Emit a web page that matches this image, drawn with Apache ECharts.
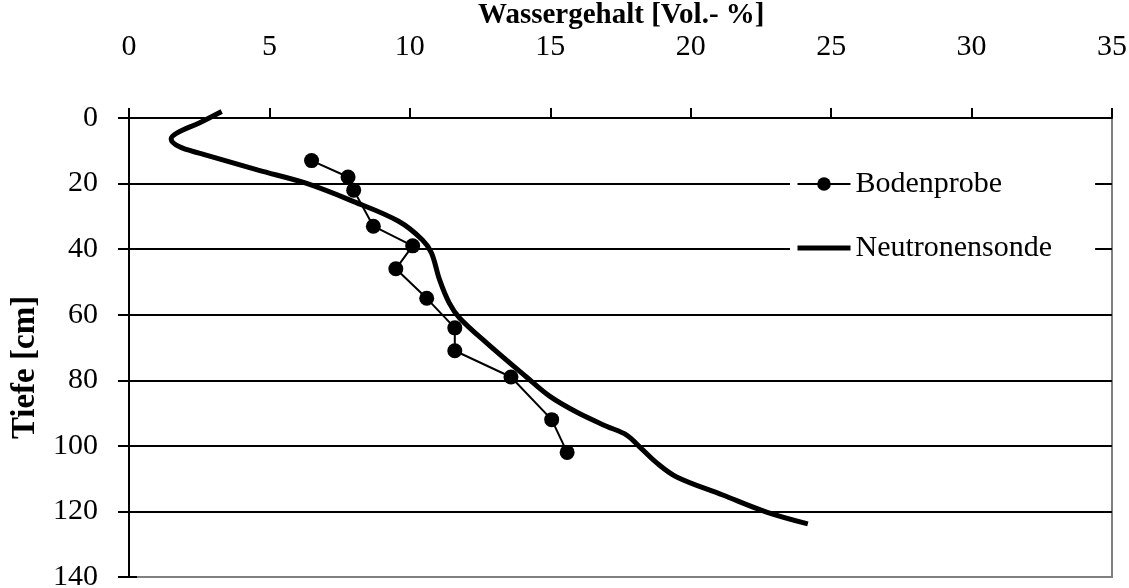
<!DOCTYPE html>
<html>
<head>
<meta charset="utf-8">
<script src="https://cdn.jsdelivr.net/npm/echarts@6/dist/echarts.min.js"></script>
<style>
html,body{margin:0;padding:0;background:#fff;}
#chart{width:1129px;height:588px;}
</style>
</head>
<body>
<div id="chart"></div>
<script>
// Data: [water content Vol.-%, depth cm]
const bodenprobe = [
  [6.5, 13], [7.8, 18], [8.0, 22], [8.7, 33], [10.1, 39], [9.5, 46],
  [10.6, 55], [11.6, 64], [11.6, 71], [13.6, 79], [15.05, 92], [15.6, 102]
];
const neutronensonde = [
  [3.3, -2], [2.5, 1.5], [1.7, 4.6], [1.5, 6.4], [1.8, 8.8], [2.5, 10.7],
  [4.6, 15.9], [6.3, 19.9], [8.0, 25.5], [9.6, 31.5], [10.45, 37.2], [10.77, 41.2],
  [11.06, 49.4], [11.4, 56.4], [11.77, 61], [12.73, 68.6], [14.15, 79], [15.0, 85],
  [16.0, 90], [17.0, 94], [17.72, 96.7], [18.18, 100.3], [18.79, 105.2], [19.5, 109.5],
  [21.14, 115], [22.7, 120.2], [24.17, 123.8]
];
const xTitle = 'Wassergehalt [Vol.- %]';
const yTitle = 'Tiefe [cm]';
const seriesNames = ['Bodenprobe', 'Neutronensonde'];

const FONT = 'Liberation Serif';
const chart = echarts.init(document.getElementById('chart'), null, {renderer: 'canvas'});
chart.setOption({
  animation: false,
  backgroundColor: '#fff',
  title: {
    text: xTitle, left: 478, top: 0, padding: 0,
    textStyle: {fontFamily: FONT, fontWeight: 'bold', fontSize: 29, color: '#000', lineHeight: 32}
  },
  grid: {
    left: 129, top: 118, right: 17, bottom: 11,
    outerBoundsMode: 'none', containLabel: false,
    show: true, borderColor: '#808080', borderWidth: 2, backgroundColor: 'transparent'
  },
  xAxis: {
    type: 'value', position: 'top', min: 0, max: 35, interval: 5,
    axisLine: {show: true, lineStyle: {color: '#000', width: 2}},
    axisTick: {show: true, inside: false, length: 10, lineStyle: {color: '#000', width: 2}},
    axisLabel: {fontFamily: FONT, fontSize: 30, color: '#000', margin: 56},
    splitLine: {show: false}
  },
  yAxis: [{
    type: 'value', inverse: true, min: 0, max: 140, interval: 20,
    name: yTitle, nameLocation: 'middle', nameGap: 86, nameRotate: 90,
    nameTextStyle: {fontFamily: FONT, fontWeight: 'bold', fontSize: 33, color: '#000', padding: [0, 40, 0, 0]},
    axisLine: {show: true, lineStyle: {color: '#000', width: 2}},
    axisTick: {show: true, inside: false, length: 11, lineStyle: {color: '#000', width: 2}},
    axisLabel: {fontFamily: FONT, fontSize: 30, color: '#000', margin: 31},
    splitLine: {show: true, showMinLine: false, showMaxLine: false, lineStyle: {color: '#000', width: 2}}
  }, {
    type: 'value', inverse: true, min: 0, max: 140, interval: 20, position: 'left',
    axisLine: {show: false},
    axisTick: {show: true, inside: true, length: 8, lineStyle: {color: '#000', width: 2}},
    axisLabel: {show: false},
    splitLine: {show: false}
  }],
  legend: {
    orient: 'vertical', left: 790, top: 163,
    data: [
      {name: seriesNames[0], lineStyle: {width: 2}},
      {name: seriesNames[1], itemStyle: {opacity: 0}, lineStyle: {width: 5}}
    ],
    backgroundColor: '#fff',
    padding: [4, 43, 4, 5],
    itemWidth: 53, itemHeight: 17, itemGap: 30,
    textStyle: {fontFamily: FONT, fontSize: 30, color: '#000', lineHeight: 34}
  },
  series: [{
    name: seriesNames[0], type: 'line', data: bodenprobe,
    symbol: 'circle', symbolSize: 15,
    lineStyle: {color: '#000', width: 2},
    itemStyle: {color: '#000'},
    z: 3
  }, {
    name: seriesNames[1], type: 'line', data: neutronensonde,
    symbol: 'none', smooth: 0.35, clip: false,
    lineStyle: {color: '#000', width: 5},
    itemStyle: {color: '#000'},
    z: 2
  }]
});
</script>
</body>
</html>
